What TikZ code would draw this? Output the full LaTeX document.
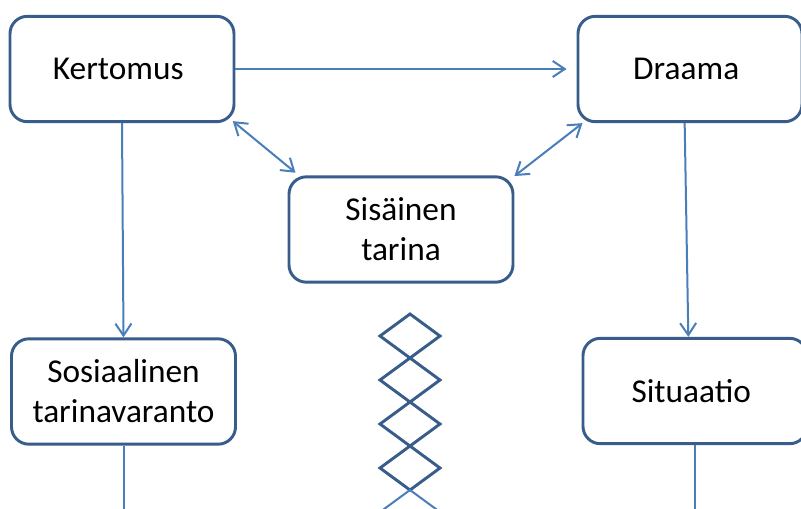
\documentclass[tikz,border=0pt]{standalone}
\usepackage{fontspec}
\setmainfont{Carlito}
\usepackage{tikz}
\usetikzlibrary{positioning, arrows.meta}
\definecolor{boxline}{HTML}{385D8A}
\definecolor{linkline}{HTML}{4A7EBB}

\begin{document}
\begin{tikzpicture}[x = .75pt, y = -.75pt,
    box/.style = { draw = boxline, line width = 2.2pt, rounded corners = 13pt, align = center,
      minimum width = 168pt, minimum height = 79pt, inner sep = 0pt,
      font = \fontsize{25}{30}\selectfont },
    link/.style = { draw = linkline, line width = 1.5pt },
    tip/.style = { -{Straight Barb[length = 9pt, width = 12pt]} },
    tips/.style = { {Straight Barb[length = 9pt, width = 12pt]}-{Straight Barb[length = 9pt, width = 12pt]} },
    zig/.style = { draw = boxline, line width = 2.2pt, line join = miter }]
  \clip (0,0) rectangle (801,508);
  \fill [white] (0,0) rectangle (801,508);

  \node [box] (kertomus) at (122,69) { Kertomus };
  \node [box] (draama) at (690,69) { Draama };
  \node [box] (sisainen) at (401,229.5) { Sisäinen \\ tarina };
  \node [box] (sosiaalinen) at (123.5,391.5) { Sosiaalinen \\ tarinavaranto };
  \node [box] (situaatio) at (695,391) { Situaatio };

  \coordinate (vasenalas) at (123.5,515);
  \coordinate (oikeaalas) at (695,515);
  \coordinate (ketjupaa) at (410,490);
  \coordinate (ketjuvasen) at (380,512);
  \coordinate (ketjuoikea) at (440,512);

  \draw [link, tip, shorten >= 7.5pt] (kertomus.east) -- (draama.west);
  \draw [link, tips] ([xshift = -2pt, yshift = 1.5pt]kertomus.south east)
    -- ([xshift = 6pt, yshift = 2pt]sisainen.north west);
  \draw [link, tips] ([xshift = 4.5pt, yshift = 0pt]draama.south west)
    -- ([yshift = -0.5pt]sisainen.north east);
  \draw [link, tip] (kertomus.south) -- (sosiaalinen.north);
  \draw [link, tip] ([xshift = -4pt]draama.south) -- ([xshift = -5pt]situaatio.north);
  \draw [link] (sosiaalinen.south) -- (vasenalas);
  \draw [link] (situaatio.south) -- (oikeaalas);

  % ketju
  \foreach \y in {336,380,424,468}
    \draw [zig] (410,\y-22) -- (440,\y) -- (410,\y+22) -- (380,\y) -- cycle;
  \draw [link] (ketjuvasen) -- (ketjupaa) -- (ketjuoikea);
\end{tikzpicture}
\end{document}
